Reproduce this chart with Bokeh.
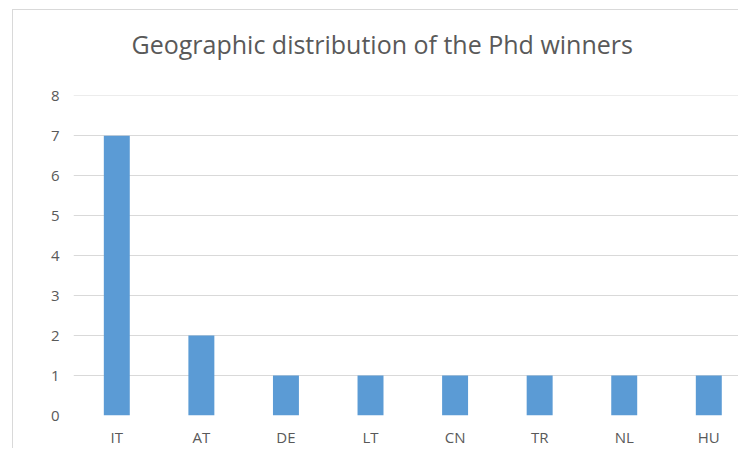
from bokeh.plotting import figure
from bokeh.models import Range1d, FixedTicker, ColumnDataSource, Title
from bokeh.embed import file_html
from bokeh.resources import INLINE

categories = ["IT", "AT", "DE", "LT", "CN", "TR", "NL", "HU"]
winners = [7, 2, 1, 1, 1, 1, 1, 1]
y_ticks = [0, 1, 2, 3, 4, 5, 6, 7, 8]
title_text = "Geographic distribution of the Phd winners"

positions = list(range(len(categories)))
src = ColumnDataSource(data=dict(x=positions, top=winners, cat=categories))

TEXT = "#595959"
GRID = "#d9d9d9"
FONT = "Open Sans"

p = figure(width=726, height=439, output_backend="svg", toolbar_location=None,
           x_range=Range1d(-0.512, 7.363), y_range=Range1d(0, 8.01),
           min_border_left=60, min_border_right=0, min_border_top=85,
           min_border_bottom=34)

p.vbar(x="x", top="top", bottom=0, width=0.307, source=src,
       fill_color="#5b9bd5", line_color=None)

p.title.text = title_text
p.title.text_font = FONT
p.title.text_font_size = "25px"
p.title.text_font_style = "normal"
p.title.text_color = TEXT
p.title.align = "left"
p.title.offset = 58
p.title.standoff = 27

# empty spacer between the title and the plot area
p.add_layout(Title(text=" ", text_font_size="2px", standoff=17), "above")

p.xaxis.ticker = FixedTicker(ticks=positions)
p.xaxis.major_label_overrides = {i: c for i, c in zip(positions, categories)}
p.yaxis.ticker = FixedTicker(ticks=y_ticks)

for ax in (p.xaxis[0], p.yaxis[0]):
    ax.axis_line_color = None
    ax.major_tick_line_color = None
    ax.minor_tick_line_color = None
    ax.major_tick_out = 0
    ax.major_tick_in = 0
    ax.major_label_text_font = FONT
    ax.major_label_text_font_size = "15px"
    ax.major_label_text_color = TEXT
p.xaxis.major_label_standoff = 11
p.yaxis.major_label_standoff = 14

p.xgrid.grid_line_color = None
p.ygrid.grid_line_color = GRID
p.ygrid.grid_line_width = 1
p.outline_line_color = None
p.background_fill_color = "white"
p.border_fill_color = "white"

p.styles = {"margin-left": "12px", "margin-top": "9px",
            "border-left": "1px solid #d9d9d9", "border-top": "1px solid #d9d9d9"}

open("out.html", "w").write(file_html(p, INLINE))
